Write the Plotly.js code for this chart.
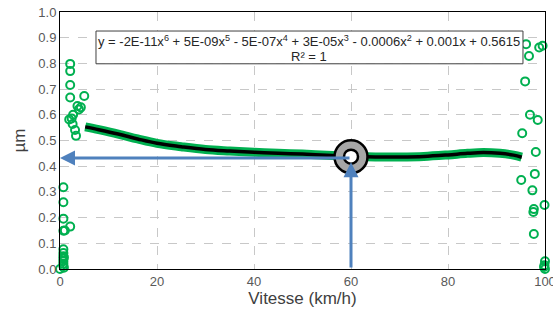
<!DOCTYPE html>
<html><head><meta charset="utf-8">
<script src="https://cdn.plot.ly/plotly-3.0.1.min.js"></script>
<style>body{margin:0;background:#fff}#c{width:553px;height:320px}</style>
</head><body><div id="c"></div>
<script>
// Scatter data (green open circles)
const leftX = [2.1, 2.1, 2.1, 2.1, 5.0, 3.6, 4.3, 3.9, 2.4, 2.7, 1.9, 2.6, 3.1, 3.3,
  0.7, 0.7, 0.7, 0.7, 1.0, 2.1, 0.7, 0.7, 0.7, 0.7, 0.7, 0.7, 0.7, 0.8, 0.8, 0.0];
const leftY = [0.798, 0.77, 0.716, 0.667, 0.673, 0.634, 0.629, 0.621, 0.586, 0.60, 0.582, 0.564, 0.541, 0.518,
  0.318, 0.26, 0.196, 0.149, 0.15, 0.165, 0.077, 0.062, 0.05, 0.04, 0.03, 0.02, 0.012, 0.005, 0.045, 0.0];
const rightX = [96.1, 96.7, 98.8, 99.5, 95.9, 96.9, 98.5, 95.3, 98.1, 97.9, 95.1, 97.4, 97.7, 97.6, 99.9, 97.7, 100, 99.9, 100, 99.8];
const rightY = [0.875, 0.829, 0.862, 0.869, 0.730, 0.600, 0.58, 0.528, 0.455, 0.37, 0.346, 0.306, 0.233, 0.222, 0.249, 0.136, 0.03, 0.015, 0.0, 0.008];
// Main curve (dense data band + trendline)
const curveX = [5.2, 8, 12, 16, 20, 25, 30, 35, 40, 45, 50, 55, 60, 65, 70, 75, 80, 84, 87.3, 90.7, 93.5, 95.2];
const curveY = [0.553, 0.542, 0.525, 0.506, 0.489, 0.476, 0.465, 0.459, 0.454, 0.450, 0.447, 0.443, 0.439, 0.436, 0.436, 0.438, 0.444, 0.450, 0.453, 0.450, 0.443, 0.435];
// Highlighted point
const markX = [60];
const markY = [0.437];
const xTicks = [0, 20, 40, 60, 80, 100];
const yTicks = [0, 0.1, 0.2, 0.3, 0.4, 0.5, 0.6, 0.7, 0.8, 0.9, 1.0];
const eqLine1 = 'y = -2E-11x<sup>6</sup> + 5E-09x<sup>5</sup> - 5E-07x<sup>4</sup> + 3E-05x<sup>3</sup> - 0.0006x<sup>2</sup> + 0.001x + 0.5615';
const eqLine2 = 'R² = 1';

const green = '#00b050';
const blue = '#4f81bd';

const traces = [
  {x: leftX.concat(rightX), y: leftY.concat(rightY), mode: 'markers', type: 'scatter', cliponaxis: false,
   marker: {symbol: 'circle-open', size: 8, color: green, line: {width: 2, color: green}}, hoverinfo: 'skip'},
  {x: curveX, y: curveY, mode: 'lines', type: 'scatter', line: {color: green, width: 9, shape: 'spline'}},
  {x: curveX, y: curveY, mode: 'lines', type: 'scatter', line: {color: '#000', width: 3.5, shape: 'spline'}},
  {x: markX, y: markY, mode: 'markers', type: 'scatter',
   marker: {symbol: 'circle', size: 33, color: '#a6a6a6', line: {width: 2.5, color: '#000'}}},
  {x: markX, y: markY, mode: 'markers', type: 'scatter',
   marker: {symbol: 'circle', size: 14, color: '#fff', line: {width: 2.5, color: '#000'}}}
];

const layout = {
  width: 553, height: 320,
  margin: {l: 60, r: 8, t: 12, b: 51},
  showlegend: false,
  paper_bgcolor: '#fff', plot_bgcolor: '#fff',
  font: {family: 'Liberation Sans, Arial, sans-serif', color: '#595959', size: 13},
  xaxis: {range: [0, 100], tickvals: xTicks, ticktext: xTicks.map(String), showgrid: true,
    gridcolor: '#c8c8c8', griddash: 'dash', gridwidth: 1, zeroline: false,
    showline: true, linecolor: '#000', linewidth: 1, mirror: true, ticks: '',
    ticklabeloverflow: 'allow', automargin: false,
    tickfont: {size: 13, color: '#595959'},
    title: {text: 'Vitesse (km/h)', font: {size: 17, color: '#404040'}, standoff: 4}},
  yaxis: {range: [0, 1.0], tickvals: yTicks, ticktext: yTicks.map(v => v.toFixed(1)), showgrid: true,
    gridcolor: '#c8c8c8', griddash: 'dash', gridwidth: 1, zeroline: false,
    showline: true, linecolor: '#000', linewidth: 1, mirror: true, ticks: '',
    automargin: false,
    tickfont: {size: 13, color: '#595959'},
    title: {text: 'µm', font: {size: 17, color: '#404040'}, standoff: 8}},
  shapes: [
    {type: 'rect', xref: 'paper', yref: 'paper', x0: 0.0742, x1: 0.9546, y0: 0.7985, y1: 0.926,
     line: {color: '#404040', width: 1}, fillcolor: '#fff', layer: 'above'}
  ],
  annotations: [
    {x: 0, y: 0.432, ax: 60, ay: 0.432, xref: 'x', yref: 'y', axref: 'x', ayref: 'y',
     showarrow: true, arrowhead: 2, arrowsize: 1, arrowwidth: 3, arrowcolor: blue, text: ''},
    {x: 60, y: 0.415, ax: 60, ay: 0, xref: 'x', yref: 'y', axref: 'x', ayref: 'y',
     showarrow: true, arrowhead: 2, arrowsize: 1, arrowwidth: 3, arrowcolor: blue, text: ''},
    {x: 0.514, y: 0.887, xref: 'paper', yref: 'paper', xanchor: 'center', yanchor: 'middle', showarrow: false,
     text: eqLine1, font: {size: 13, color: '#262626'}},
    {x: 0.514, y: 0.826, xref: 'paper', yref: 'paper', xanchor: 'center', yanchor: 'middle', showarrow: false,
     text: eqLine2, font: {size: 13, color: '#262626'}}
  ]
};
Plotly.newPlot('c', traces, layout, {staticPlot: true, displayModeBar: false});
</script></body></html>
